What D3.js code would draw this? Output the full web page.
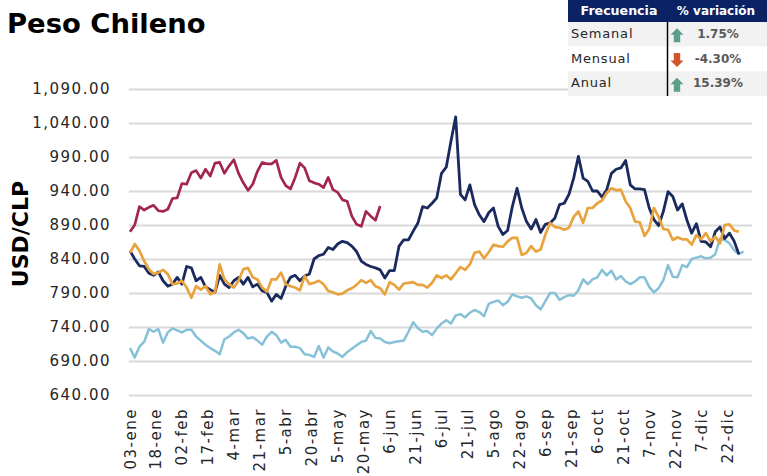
<!DOCTYPE html>
<html>
<head>
<meta charset="utf-8">
<script src="https://cdn.jsdelivr.net/npm/d3@7"></script>
<style>
  html, body { margin: 0; padding: 0; background: #fff; }
  svg { display: block; }
  text { font-family: "DejaVu Sans", sans-serif; }
</style>
</head>
<body>
<div id="chart"></div>
<script>
// y axis and x axis labels
var yTicks = [640, 690, 740, 790, 840, 890, 940, 990, 1040, 1090];
var xLabels = ['03-ene', '18-ene', '02-feb', '17-feb', '4-mar', '21-mar', '5-abr', '20-abr',
  '5-may', '20-may', '6-jun', '21-jun', '6-jul', '21-jul', '5-ago', '22-ago', '6-sep',
  '21-sep', '6-oct', '21-oct', '7-nov', '22-nov', '7-dic', '22-dic'];

// values, one every 2 trading days
var navy = [852, 840, 830, 829, 819, 816, 821, 808, 800, 803, 813, 803, 829, 827, 808, 813, 799, 795, 791, 816, 803, 798, 808,
  813, 803, 813, 799, 803, 793, 791, 778, 788, 782, 800, 813, 816, 808, 815, 818, 840, 845, 847, 857, 854, 862,
  866, 864, 859, 851, 837, 832, 829, 827, 824, 812, 823, 823, 859, 868, 868, 881, 893, 917, 915, 922, 930, 966,
  975, 1013, 1049, 935, 927, 949, 920, 905, 895, 908, 915, 888, 876, 882, 917, 944, 915, 895, 884, 898, 879, 891, 893,
  900, 920, 922, 935, 959, 991, 959, 954, 940, 940, 931, 942, 966, 972, 974, 985, 949, 943, 943, 942, 915, 898,
  889, 910, 939, 932, 912, 921, 897, 878, 892, 866, 865, 858, 880, 887, 870, 878, 866, 847];
var orange = [849, 862, 852, 837, 825, 818, 820, 824, 818, 803, 804, 808, 798, 783, 800, 795, 800, 788, 791, 832, 810, 803, 798,
  808, 825, 827, 813, 810, 798, 792, 810, 810, 820, 803, 800, 798, 794, 815, 803, 805, 808, 803, 793, 791, 788,
  789, 794, 797, 802, 809, 805, 809, 800, 797, 788, 806, 802, 795, 804, 805, 806, 802, 802, 798, 805, 816, 812,
  816, 810, 819, 828, 824, 832, 849, 851, 841, 850, 861, 859, 858, 866, 871, 871, 846, 849, 859, 851, 854, 876, 893,
  887, 886, 883, 886, 902, 910, 893, 915, 915, 922, 926, 937, 944, 941, 942, 925, 915, 895, 894, 874, 884, 915,
  902, 884, 883, 868, 872, 869, 869, 861, 875, 869, 878, 866, 873, 863, 890, 891, 882, 880];
var lightBlue = [709, 695, 711, 718, 737, 733, 737, 717, 732, 738, 735, 732, 736, 736, 726, 720, 714, 709, 705, 700, 722, 726, 732,
  736, 731, 723, 725, 720, 714, 726, 733, 728, 717, 721, 711, 711, 709, 700, 699, 696, 712, 695, 710, 704, 701,
  696, 703, 708, 713, 718, 720, 734, 724, 723, 718, 716, 718, 719, 720, 733, 747, 738, 733, 734, 728, 738, 745,
  750, 745, 757, 759, 754, 761, 765, 762, 756, 774, 777, 779, 772, 777, 788, 785, 783, 785, 782, 772, 766, 778, 790,
  790, 780, 784, 787, 786, 794, 810, 803, 810, 813, 824, 816, 823, 810, 815, 807, 803, 807, 813, 813, 799, 791,
  797, 809, 831, 814, 813, 831, 828, 840, 842, 844, 841, 842, 847, 870, 868, 863, 853, 847, 851];
var maroon = [880, 890, 917, 912, 916, 919, 911, 910, 913, 929, 930, 951, 950, 967, 970, 959, 972, 962, 981, 982, 966, 977, 986,
  966, 952, 941, 950, 969, 982, 980, 980, 985, 960, 948, 943, 960, 981, 974, 955, 952, 950, 945, 960, 942, 938,
  927, 925, 903, 891, 888, 910, 903, 897, 918];

// table at the top right
var freqLabels = ['Semanal', 'Mensual', 'Anual'];
var freqValues = ['1.75%', '-4.30%', '15.39%'];
var freqUp = [true, false, true];

var daysPerSample = 2;
var daysPerTick = 11;

var width = 767;
var height = 476;

var svg = d3.select('#chart').append('svg')
  .attr('width', width)
  .attr('height', height);

var x = d3.scaleLinear().domain([0, 260]).range([130, 743.6]);
var y = d3.scaleLinear().domain([640, 1090]).range([395, 89]);

// title
svg.append('text')
  .attr('x', 7)
  .attr('y', 33)
  .attr('font-size', 27.4)
  .attr('font-weight', 'bold')
  .attr('fill', '#000')
  .text('Peso Chileno');

// y axis with full width gridlines
var yAxis = svg.append('g')
  .attr('transform', 'translate(129,0)')
  .call(d3.axisLeft(y)
    .tickValues(yTicks)
    .tickFormat(d3.format(',.2f'))
    .tickSize(-623)
    .tickPadding(18));
yAxis.select('.domain').remove();
yAxis.selectAll('line').attr('stroke', '#d9d9d9').attr('stroke-width', 2);
yAxis.selectAll('text')
  .attr('font-size', 15)
  .attr('letter-spacing', 1.5)
  .attr('fill', '#262626');

svg.append('text')
  .attr('transform', 'translate(28,234) rotate(-90)')
  .attr('text-anchor', 'middle')
  .attr('font-size', 22)
  .attr('font-weight', 'bold')
  .attr('fill', '#000')
  .text('USD/CLP');

// x axis, rotated labels
var xAxis = svg.append('g')
  .attr('transform', 'translate(0,402)')
  .call(d3.axisBottom(x)
    .tickValues(xLabels.map(function(d, i) { return i * daysPerTick; }))
    .tickFormat(function(d, i) { return xLabels[i]; })
    .tickSize(0)
    .tickPadding(0));
xAxis.select('.domain').remove();
xAxis.selectAll('text')
  .attr('font-size', 15)
  .attr('letter-spacing', 1.5)
  .attr('fill', '#262626')
  .attr('text-anchor', 'end')
  .attr('dy', null)
  .attr('transform', function() { return 'rotate(-90)'; })
  .attr('x', -6)
  .attr('y', 0)
  .attr('dominant-baseline', 'central');

// series
var line = d3.line()
  .x(function(d, i) { return x(i * daysPerSample); })
  .y(function(d) { return y(d); });

var series = [
  { values: lightBlue, color: '#86c1d8', weight: 2.5 },
  { values: maroon, color: '#a3264f', weight: 2.7 },
  { values: navy, color: '#1b2a5e', weight: 2.8 },
  { values: orange, color: '#e8a33d', weight: 2.7 }
];

svg.selectAll('path.series')
  .data(series)
  .enter().append('path')
  .attr('class', 'series')
  .attr('fill', 'none')
  .attr('stroke', function(d) { return d.color; })
  .attr('stroke-width', function(d) { return d.weight; })
  .attr('stroke-linejoin', 'round')
  .attr('d', function(d) { return line(d.values); });

// table
var rowY = d3.scaleBand().domain(freqLabels).range([22, 96]);

svg.append('rect')
  .attr('x', 568).attr('y', 0)
  .attr('width', 199).attr('height', 22)
  .attr('fill', '#0b2265');

svg.append('text')
  .attr('x', 619).attr('y', 15)
  .attr('text-anchor', 'middle')
  .attr('font-size', 12.6)
  .attr('font-weight', 'bold')
  .attr('fill', '#fff')
  .text('Frecuencia');

svg.append('text')
  .attr('x', 716).attr('y', 15)
  .attr('text-anchor', 'middle')
  .attr('font-size', 12)
  .attr('font-weight', 'bold')
  .attr('fill', '#fff')
  .text('% variación');

var rows = svg.selectAll('g.row')
  .data(freqLabels)
  .enter().append('g')
  .attr('class', 'row')
  .attr('transform', function(d) { return 'translate(0,' + rowY(d) + ')'; });

rows.append('rect')
  .attr('x', 568)
  .attr('width', 199)
  .attr('height', rowY.bandwidth())
  .attr('fill', function(d, i) { return i % 2 === 0 ? '#f2f2f2' : '#fff'; });

rows.append('text')
  .attr('x', 571)
  .attr('y', 16)
  .attr('font-size', 13)
  .attr('letter-spacing', 0.8)
  .attr('fill', '#262626')
  .text(function(d) { return d; });

rows.append('text')
  .attr('x', 718)
  .attr('y', 16)
  .attr('text-anchor', 'middle')
  .attr('font-size', 12)
  .attr('font-weight', 'bold')
  .attr('fill', '#595959')
  .text(function(d, i) { return freqValues[i]; });

// block arrows, the outline points up and gets flipped for negatives
var arrowShape = [[0, -7], [6.5, -0.5], [3.2, -0.5], [3.2, 7], [-3.2, 7], [-3.2, -0.5], [-6.5, -0.5]];
rows.append('path')
  .attr('d', d3.line()(arrowShape) + 'Z')
  .attr('transform', function(d, i) {
    return 'translate(677,' + (rowY.bandwidth() / 2 + 1) + ')' + (freqUp[i] ? '' : ' scale(1,-1)');
  })
  .attr('fill', function(d, i) { return freqUp[i] ? '#5a9e8b' : '#d2542d'; });

svg.append('line')
  .attr('x1', 667.5).attr('x2', 667.5)
  .attr('y1', 22).attr('y2', 96)
  .attr('stroke', '#000')
  .attr('stroke-width', 1.5);
</script>
</body>
</html>
